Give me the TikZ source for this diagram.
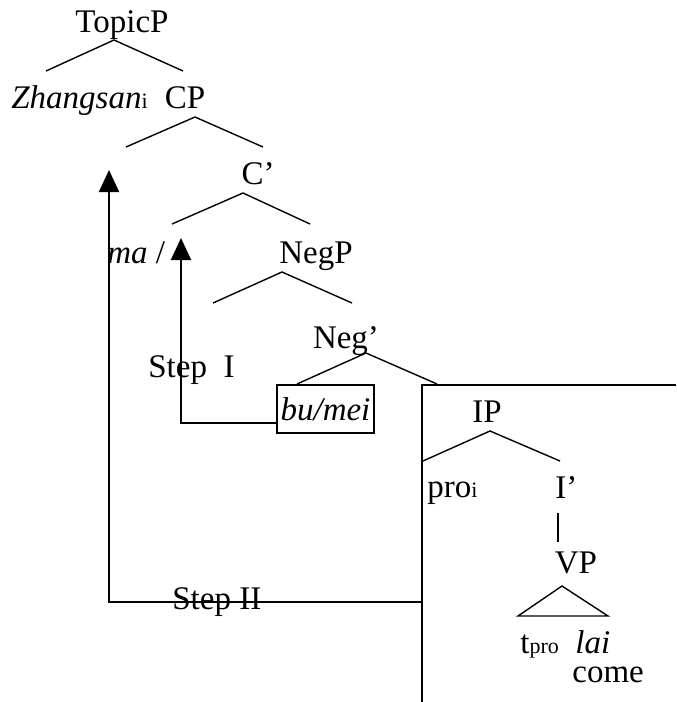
\documentclass[tikz,border=0pt]{standalone}
\usepackage{fontspec}
\setmainfont{Liberation Serif}
\usetikzlibrary{arrows.meta}

\newcommand{\smallsub}[1]{{\fontsize{11}{13}\selectfont #1}}

\tikzset{every node/.style={inner sep=0pt, font=\fontsize{16.5}{20}\selectfont},
  branch/.style={line width=0.7pt},
  movearrow/.style={line width=1pt, -{Triangle[width=10pt,length=11pt]}},
  headbox/.style={draw, line width=1pt, minimum width=48.5pt, minimum height=24pt}}

\begin{document}
\begin{tikzpicture}[x=0.5pt,y=-0.5pt]
  \useasboundingbox (0,0) rectangle (676,702);
  % labels
  \node[anchor=base] (topic) at (122,32) {TopicP};
  \node[anchor=base west] (zhang) at (11,108) {\textit{Zhangsan}\smallsub{i}};
  \node[anchor=base] (cp) at (185,108) {CP};
  \node[anchor=base] (cbar) at (258,184) {C’};
  \node[anchor=base west] (ma) at (107,263) {\textit{ma} /};
  \node[anchor=base] (negp) at (316,263) {NegP};
  \node[anchor=base] (negbar) at (346,348) {Neg’};
  \node[anchor=base west] (stepone) at (148,377) {Step\ \ I};
  \node[headbox] (bumei) at (325.5,409) {\textit{bu/mei}};
  \node[anchor=base] (ip) at (487,422) {IP};
  \node[anchor=base west] (pro) at (427,497) {pro\smallsub{i}};
  \node[anchor=base west] (ibar) at (555,498) {I’};
  \node[anchor=base] (vp) at (576,573) {VP};
  \node[anchor=base west] (tlai) at (520,653) {t\smallsub{pro}\ \ \textit{lai}};
  \node[anchor=base west] (come) at (572,682) {come};
  \node[anchor=base west] (steptwo) at (172,609) {Step II};

  % branches
  \draw[branch] (46,71) -- (114,40) -- (183,71);
  \draw[branch] (126,147) -- (195,117) -- (263,147);
  \draw[branch] (172,224) -- (243,193) -- (310,224);
  \draw[branch] (213,303) -- (282,272) -- (352,303);
  \draw[branch] (297,384) -- (366,353) -- (437,384);
  \draw[branch] (423,461) -- (490,431) -- (560,461);
  \draw[branch] (558,513) -- (558,542);
  \draw[branch] (562,586) -- (518,616) -- (608,616) -- cycle;

  % IP box, open to the right and below
  \coordinate (boxcorner) at (422,385);
  \draw[line width=1pt] (676,385) -- (boxcorner) -- (422,702);

  % movement
  \coordinate (turnone) at (181,423);
  \coordinate (tipone) at (181,238);
  \draw[movearrow] (bumei.west |- turnone) -- (turnone) -- (tipone);
  \coordinate (turntwo) at (109,602);
  \coordinate (tiptwo) at (109,170);
  \draw[movearrow] (boxcorner |- turntwo) -- (turntwo) -- (tiptwo);
\end{tikzpicture}
\end{document}
